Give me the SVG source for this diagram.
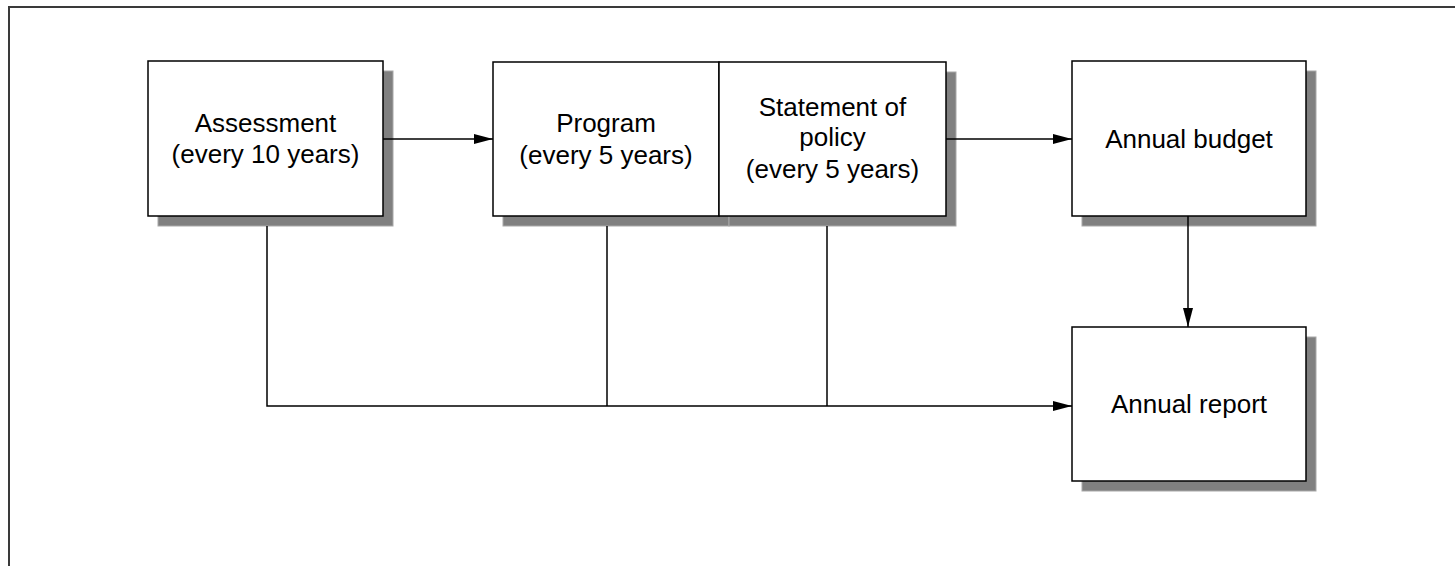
<svg xmlns="http://www.w3.org/2000/svg" width="1455" height="566" viewBox="0 0 1455 566">
<style>
.shadow{fill:#808080;stroke:#a8a8a8;stroke-width:1}
.box{fill:#ffffff;stroke:#000000;stroke-width:1.5}
.lbl{font-family:"Liberation Sans",Arial,sans-serif;font-size:26px;fill:#000000;text-anchor:middle}
.conn{fill:none;stroke:#000000;stroke-width:1.5}
.frame{fill:none;stroke:#3a3a3a;stroke-width:2}
</style>
<defs>
<marker id="arr" markerUnits="userSpaceOnUse" markerWidth="20" markerHeight="12" refX="19" refY="5" orient="auto">
<path d="M0,0 L19,5 L0,10 Z" fill="#000000"/>
</marker>
</defs>
<rect x="0" y="0" width="1455" height="566" fill="#ffffff"/>
<g id="frame">
<path class="frame" d="M9,566 V7 H1455"/>
</g>
<g id="node-assessment">
<rect class="shadow" x="158" y="71" width="235" height="155"/>
<rect class="box" x="148" y="61" width="235" height="155"/>
<text class="lbl" x="265.5" y="132">Assessment</text>
<text class="lbl" x="265.5" y="163">(every 10 years)</text>
</g>
<g id="node-program">
<rect class="shadow" x="503" y="72" width="226" height="154"/>
<rect class="box" x="493" y="62" width="226" height="154"/>
<text class="lbl" x="606" y="132">Program</text>
<text class="lbl" x="606" y="164">(every 5 years)</text>
</g>
<g id="node-statement">
<rect class="shadow" x="729" y="72" width="227" height="154"/>
<rect class="box" x="719" y="62" width="227" height="154"/>
<text class="lbl" x="832.5" y="116">Statement of</text>
<text class="lbl" x="832.5" y="146">policy</text>
<text class="lbl" x="832.5" y="178">(every 5 years)</text>
</g>
<g id="node-budget">
<rect class="shadow" x="1082" y="71" width="234" height="155"/>
<rect class="box" x="1072" y="61" width="234" height="155"/>
<text class="lbl" x="1189" y="148">Annual budget</text>
</g>
<g id="node-report">
<rect class="shadow" x="1082" y="337" width="234" height="154"/>
<rect class="box" x="1072" y="327" width="234" height="154"/>
<text class="lbl" x="1189" y="413">Annual report</text>
</g>
<g id="connectors">
<path class="conn" d="M383,139 H493" marker-end="url(#arr)"/>
<path class="conn" d="M946,139 H1072" marker-end="url(#arr)"/>
<path class="conn" d="M1188,216 V327" marker-end="url(#arr)"/>
<path class="conn" d="M267,226 V406 H1072" marker-end="url(#arr)"/>
<path class="conn" d="M607,226 V406"/>
<path class="conn" d="M827,226 V406"/>
</g>
</svg>
